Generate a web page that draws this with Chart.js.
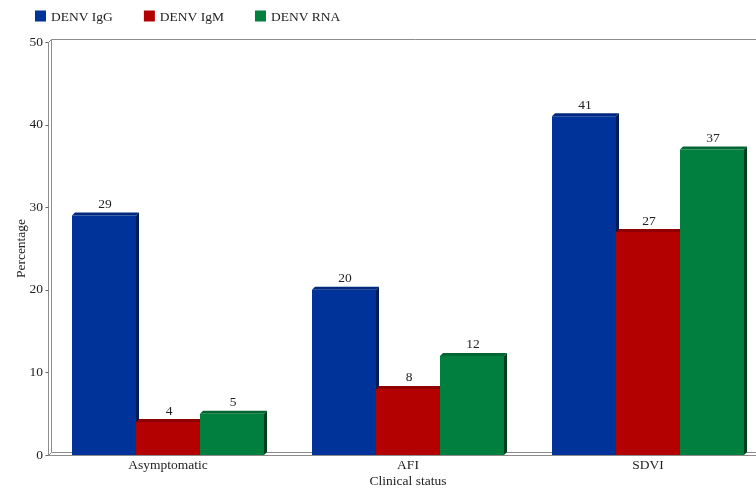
<!DOCTYPE html>
<html>
<head>
<meta charset="utf-8">
<script src="https://cdn.jsdelivr.net/npm/chart.js@4.4.1/dist/chart.umd.min.js"></script>
<style>
  html, body { margin: 0; padding: 0; background: #fff; width: 756px; height: 490px; overflow: hidden; }
  #wrap { width: 780px; height: 490px; }
</style>
</head>
<body>
<div id="wrap"><canvas id="c" width="780" height="490"></canvas></div>
<script>
// Dengue markers by clinical status (%)
const categories = ['Asymptomatic', 'AFI', 'SDVI'];
const seriesNames = ['DENV IgG', 'DENV IgM', 'DENV RNA'];
const iggValues = [29, 20, 41];
const igmValues = [4, 8, 27];
const rnaValues = [5, 12, 37];
const yTickValues = [0, 10, 20, 30, 40, 50];

const FONT = '"Liberation Serif", "Times New Roman", serif';
const FONT_SIZE = 13.5;
const DEPTH = 3;

const palette = [
  { front: '#003399', top: '#00297d', side: '#001a55' },
  { front: '#b30000', top: '#8e0000', side: '#5a0000' },
  { front: '#007f3f', top: '#006632', side: '#003f1e' }
];

// Pseudo-3D frame, bar tops/sides, value labels and legend
const bar3d = {
  id: 'bar3d',
  beforeDraw(chart) {
    const { ctx, chartArea: a } = chart;
    const yScale = chart.scales.y;
    ctx.save();
    ctx.strokeStyle = '#8c8c8c';
    ctx.lineWidth = 1;
    const L = Math.round(a.left) + 0.5, B = Math.round(a.bottom) + 0.5, T = Math.round(a.top) + 0.5;
    const R = chart.width;
    ctx.beginPath();
    // back wall
    ctx.moveTo(L + DEPTH, B - DEPTH); ctx.lineTo(L + DEPTH, T - DEPTH); ctx.lineTo(R, T - DEPTH);
    // floor back edge
    ctx.moveTo(L + DEPTH, B - DEPTH); ctx.lineTo(R, B - DEPTH);
    // front axis lines
    ctx.moveTo(L, T); ctx.lineTo(L, B); ctx.lineTo(R, B);
    // corner diagonals
    ctx.moveTo(L, T); ctx.lineTo(L + DEPTH, T - DEPTH);
    ctx.moveTo(L, B); ctx.lineTo(L + DEPTH, B - DEPTH);
    ctx.stroke();
    // small tick marks
    ctx.strokeStyle = '#666';
    ctx.beginPath();
    yTickValues.forEach(v => {
      const py = Math.round(yScale.getPixelForValue(v)) + 0.5;
      ctx.moveTo(L - 3, py); ctx.lineTo(L, py);
    });
    ctx.stroke();
    ctx.restore();
  },
  beforeDatasetsDraw(chart) {
    const { ctx } = chart;
    ctx.save();
    chart.data.datasets.forEach((ds, i) => {
      const meta = chart.getDatasetMeta(i);
      const c = palette[i];
      meta.data.forEach(el => {
        const { x, y, base, width } = el.getProps(['x', 'y', 'base', 'width'], true);
        const l = x - width / 2, r = x + width / 2;
        // top face
        ctx.fillStyle = c.top;
        ctx.beginPath();
        ctx.moveTo(l, y); ctx.lineTo(l + DEPTH, y - DEPTH);
        ctx.lineTo(r + DEPTH, y - DEPTH); ctx.lineTo(r, y);
        ctx.closePath(); ctx.fill();
        // right side face
        ctx.fillStyle = c.side;
        ctx.beginPath();
        ctx.moveTo(r, y); ctx.lineTo(r + DEPTH, y - DEPTH);
        ctx.lineTo(r + DEPTH, base - DEPTH); ctx.lineTo(r, base);
        ctx.closePath(); ctx.fill();
      });
    });
    ctx.restore();
  },
  afterDatasetsDraw(chart) {
    const { ctx } = chart;
    ctx.save();
    ctx.font = FONT_SIZE + 'px ' + FONT;
    ctx.textAlign = 'center';
    ctx.textBaseline = 'middle';
    chart.data.datasets.forEach((ds, i) => {
      const meta = chart.getDatasetMeta(i);
      meta.data.forEach((el, j) => {
        const { x, y, width } = el.getProps(['x', 'y', 'width'], true);
        const l = x - width / 2, r = x + width / 2;
        ctx.fillStyle = '#ffffff';
        ctx.fillRect(l + 3, y - DEPTH - 15, (r - 1) - (l + 3), 14);
        ctx.fillStyle = '#222';
        ctx.fillText(String(ds.data[j]), x + 1, y - DEPTH - 8);
      });
    });
    ctx.restore();
  },
  afterDraw(chart) {
    const { ctx } = chart;
    ctx.save();
    ctx.font = FONT_SIZE + 'px ' + FONT;
    ctx.textBaseline = 'middle';
    ctx.textAlign = 'left';
    let x = 35;
    const cy = 16;
    chart.data.datasets.forEach((ds, i) => {
      ctx.fillStyle = palette[i].front;
      ctx.fillRect(x, cy - 5.5, 11, 11);
      ctx.fillStyle = '#222';
      ctx.fillText(ds.label, x + 16, cy + 1);
      x += 16 + ctx.measureText(ds.label).width + 31;
    });
    ctx.restore();
  }
};

const seriesValues = [iggValues, igmValues, rnaValues];
const axisFont = { family: FONT, size: FONT_SIZE };

new Chart(document.getElementById('c'), {
  type: 'bar',
  data: {
    labels: categories,
    datasets: seriesNames.map((name, i) => ({
      label: name,
      data: seriesValues[i],
      backgroundColor: palette[i].front,
      borderWidth: 0,
      barPercentage: 1.0,
      categoryPercentage: 0.8
    }))
  },
  options: {
    responsive: false,
    animation: false,
    devicePixelRatio: 1,
    layout: { padding: { top: 42, left: 10, right: 12, bottom: 0 } },
    plugins: { legend: { display: false }, tooltip: { enabled: false } },
    scales: {
      x: {
        grid: { display: false, drawTicks: false },
        border: { display: false },
        ticks: { color: '#222', font: axisFont, padding: 2 },
        title: { display: true, text: 'Clinical status', color: '#222', font: axisFont, padding: { top: 0, bottom: 0 } },
        afterFit(scale) { scale.height = 35; }
      },
      y: {
        min: 0, max: 50,
        afterBuildTicks(scale) { scale.ticks = yTickValues.map(v => ({ value: v })); },
        grid: { display: false, drawTicks: false },
        border: { display: false },
        ticks: { color: '#222', font: axisFont, padding: 5 },
        title: { display: true, text: 'Percentage', color: '#222', font: axisFont, padding: { top: 3, bottom: 0 } },
        afterFit(scale) { scale.width = 38; }
      }
    }
  },
  plugins: [bar3d]
});
</script>
</body>
</html>
